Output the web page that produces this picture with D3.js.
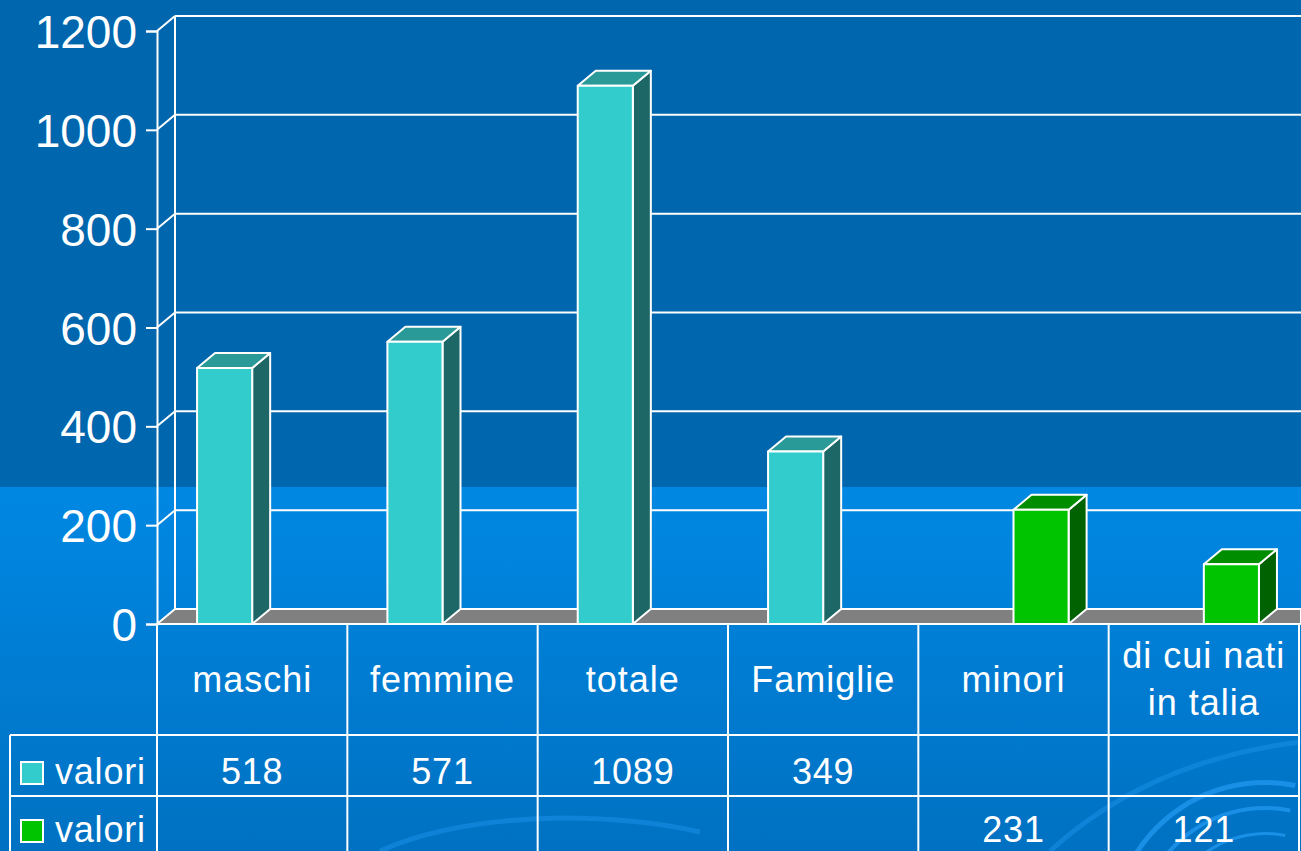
<!DOCTYPE html>
<html>
<head>
<meta charset="utf-8">
<script src="https://cdn.jsdelivr.net/npm/d3@7"></script>
<style>
  body { margin:0; overflow:hidden; background:#0066ad; }
  text { font-family:"Liberation Sans", Arial, sans-serif; fill:white; }
</style>
</head>
<body>
<script>
var width = 1301, height = 851;

// data
var categories = ["maschi", "femmine", "totale", "Famiglie", "minori", "di cui nati\nin talia"];
var series = ["valori", "valori2"];
var seriesLabels = ["valori", "valori"];
var valuesA = [518, 571, 1089, 349, null, null];
var valuesB = [null, null, null, null, 231, 121];
var tickValues = [0, 200, 400, 600, 800, 1000, 1200];

var colors = [
  {front:"#33cccc", top:"#2a9a98", side:"#1d6866"},
  {front:"#00c400", top:"#008e00", side:"#006200"}
];

var dx = 18, dy = -15;
var axisX = 157, tableRight = 1299;
var rowTop = 624, row1 = 735, row2 = 796;

var svg = d3.select("body").append("svg").attr("width", width).attr("height", height);

var defs = svg.append("defs");
var grad = defs.append("linearGradient").attr("id", "low").attr("x1", 0).attr("x2", 0).attr("y1", 0).attr("y2", 1);
grad.append("stop").attr("offset", "0%").attr("stop-color", "#0088e3");
grad.append("stop").attr("offset", "100%").attr("stop-color", "#0071c2");

svg.append("rect").attr("width", width).attr("height", 487).attr("fill", "#0066ad");
svg.append("rect").attr("y", 487).attr("width", width).attr("height", height - 487).attr("fill", "url(#low)");

// faint swirl decoration
var deco = svg.append("g").attr("fill", "none").attr("stroke", "#1a8fe6").attr("stroke-opacity", 0.55);
[[150, 5], [125, 4], [100, 3]].forEach(function(a) {
  deco.append("path")
    .attr("d", d3.arc()({innerRadius:a[0], outerRadius:a[0] + a[1], startAngle:-1.9, endAngle:0.2}))
    .attr("transform", "translate(1265,935)").attr("fill", "#1a8fe6").attr("stroke", "none");
});
deco.append("path").attr("d", "M380,851 Q450,820 560,818 Q640,818 700,832").attr("stroke-width", 5);
deco.append("path").attr("d", "M1050,851 Q1150,760 1301,742").attr("stroke-width", 5);

var y = d3.scaleLinear().domain([0, 1200]).range([rowTop, 31]);
var x = d3.scaleBand().domain(categories).range([axisX, tableRight]);
var xs = d3.scaleBand().domain(series).range([0, x.bandwidth()]).paddingOuter(0.727);

// back wall grid
var grid = svg.append("g").attr("stroke", "white").attr("stroke-width", 2);
grid.selectAll("line.h").data(tickValues.slice(1)).enter().append("line")
  .attr("x1", axisX + dx).attr("x2", width)
  .attr("y1", function(d) { return y(d) + dy; }).attr("y2", function(d) { return y(d) + dy; });
grid.selectAll("line.d").data(tickValues.slice(1)).enter().append("line")
  .attr("x1", axisX).attr("x2", axisX + dx)
  .attr("y1", function(d) { return y(d); }).attr("y2", function(d) { return y(d) + dy; });
grid.append("line").attr("x1", axisX + dx).attr("x2", axisX + dx).attr("y1", y(1200) + dy).attr("y2", y(0) + dy);

// floor
svg.append("path")
  .attr("d", "M" + axisX + "," + y(0) + "L" + (axisX + dx) + "," + (y(0) + dy) + "L" + width + "," + (y(0) + dy) + "L" + width + "," + y(0) + "Z")
  .attr("fill", "#808080").attr("stroke", "white").attr("stroke-width", 2);

// front axis
var axis = svg.append("g").attr("transform", "translate(" + axisX + ",0)")
  .call(d3.axisLeft(y).tickValues(tickValues).tickSize(11).tickPadding(9).tickFormat(d3.format("d")));
axis.select(".domain").attr("stroke", "white").attr("stroke-width", 2);
axis.selectAll(".tick line").attr("stroke", "white").attr("stroke-width", 2);
axis.selectAll(".tick text").attr("font-size", 46).attr("fill", "white").attr("dy", "0.36em")
  .style("font-family", "'Liberation Sans', Arial, sans-serif");

// 3D bars
function drawBars(vals, si) {
  var c = colors[si];
  var g = svg.append("g").attr("stroke", "white").attr("stroke-width", 2).attr("stroke-linejoin", "round");
  var data = vals.map(function(v, i) { return {cat:categories[i], v:v}; }).filter(function(d) { return d.v != null; });
  var bars = g.selectAll("g.bar").data(data).enter().append("g").attr("class", "bar");
  bars.each(function(d) {
    var x0 = x(d.cat) + xs(series[si]), w = xs.bandwidth(), yt = y(d.v), yb = y(0);
    var b = d3.select(this);
    b.append("path").attr("fill", c.side)
      .attr("d", "M" + (x0 + w) + "," + yb + "L" + (x0 + w + dx) + "," + (yb + dy) + "L" + (x0 + w + dx) + "," + (yt + dy) + "L" + (x0 + w) + "," + yt + "Z");
    b.append("path").attr("fill", c.top)
      .attr("d", "M" + x0 + "," + yt + "L" + (x0 + dx) + "," + (yt + dy) + "L" + (x0 + w + dx) + "," + (yt + dy) + "L" + (x0 + w) + "," + yt + "Z");
    b.append("rect").attr("fill", c.front).attr("x", x0).attr("y", yt).attr("width", w).attr("height", yb - yt);
  });
}
drawBars(valuesA, 0);
drawBars(valuesB, 1);

// data table
var table = svg.append("g").attr("stroke", "white").attr("stroke-width", 2);
var colEdges = categories.map(function(c) { return x(c); }).concat([tableRight]);
table.selectAll("line.v").data(colEdges).enter().append("line")
  .attr("x1", function(d) { return d; }).attr("x2", function(d) { return d; })
  .attr("y1", rowTop).attr("y2", height);
table.append("line").attr("x1", 10).attr("x2", 10).attr("y1", row1).attr("y2", height);
[row1, row2].forEach(function(r) {
  table.append("line").attr("x1", 10).attr("x2", tableRight).attr("y1", r).attr("y2", r);
});
table.append("line").attr("x1", axisX).attr("x2", tableRight).attr("y1", rowTop).attr("y2", rowTop);

var header = svg.append("g").attr("font-size", 36).attr("letter-spacing", 1).attr("text-anchor", "middle");
categories.forEach(function(c) {
  var lines = c.split("\n");
  var t = header.append("text").attr("x", x(c) + x.bandwidth() / 2)
    .attr("y", (rowTop + row1) / 2 + 12 - (lines.length - 1) * 24);
  lines.forEach(function(l, i) {
    t.append("tspan").attr("x", x(c) + x.bandwidth() / 2).attr("dy", i ? 47 : 0).text(l);
  });
});

[valuesA, valuesB].forEach(function(vals, si) {
  var base = si ? 842 : 784;
  var row = svg.append("g").attr("font-size", 36).attr("letter-spacing", 0.8);
  row.append("rect").attr("x", 21).attr("y", base - 22).attr("width", 22).attr("height", 22)
    .attr("fill", colors[si].front).attr("stroke", "white").attr("stroke-width", 2);
  row.append("text").attr("x", 55).attr("y", base).text(seriesLabels[si]);
  row.selectAll("text.val").data(vals.map(function(v, i) { return {cat:categories[i], v:v}; }).filter(function(d) { return d.v != null; }))
    .enter().append("text").attr("class", "val")
    .attr("x", function(d) { return x(d.cat) + x.bandwidth() / 2; }).attr("y", base)
    .attr("text-anchor", "middle").text(function(d) { return d.v; });
});
</script>
</body>
</html>
